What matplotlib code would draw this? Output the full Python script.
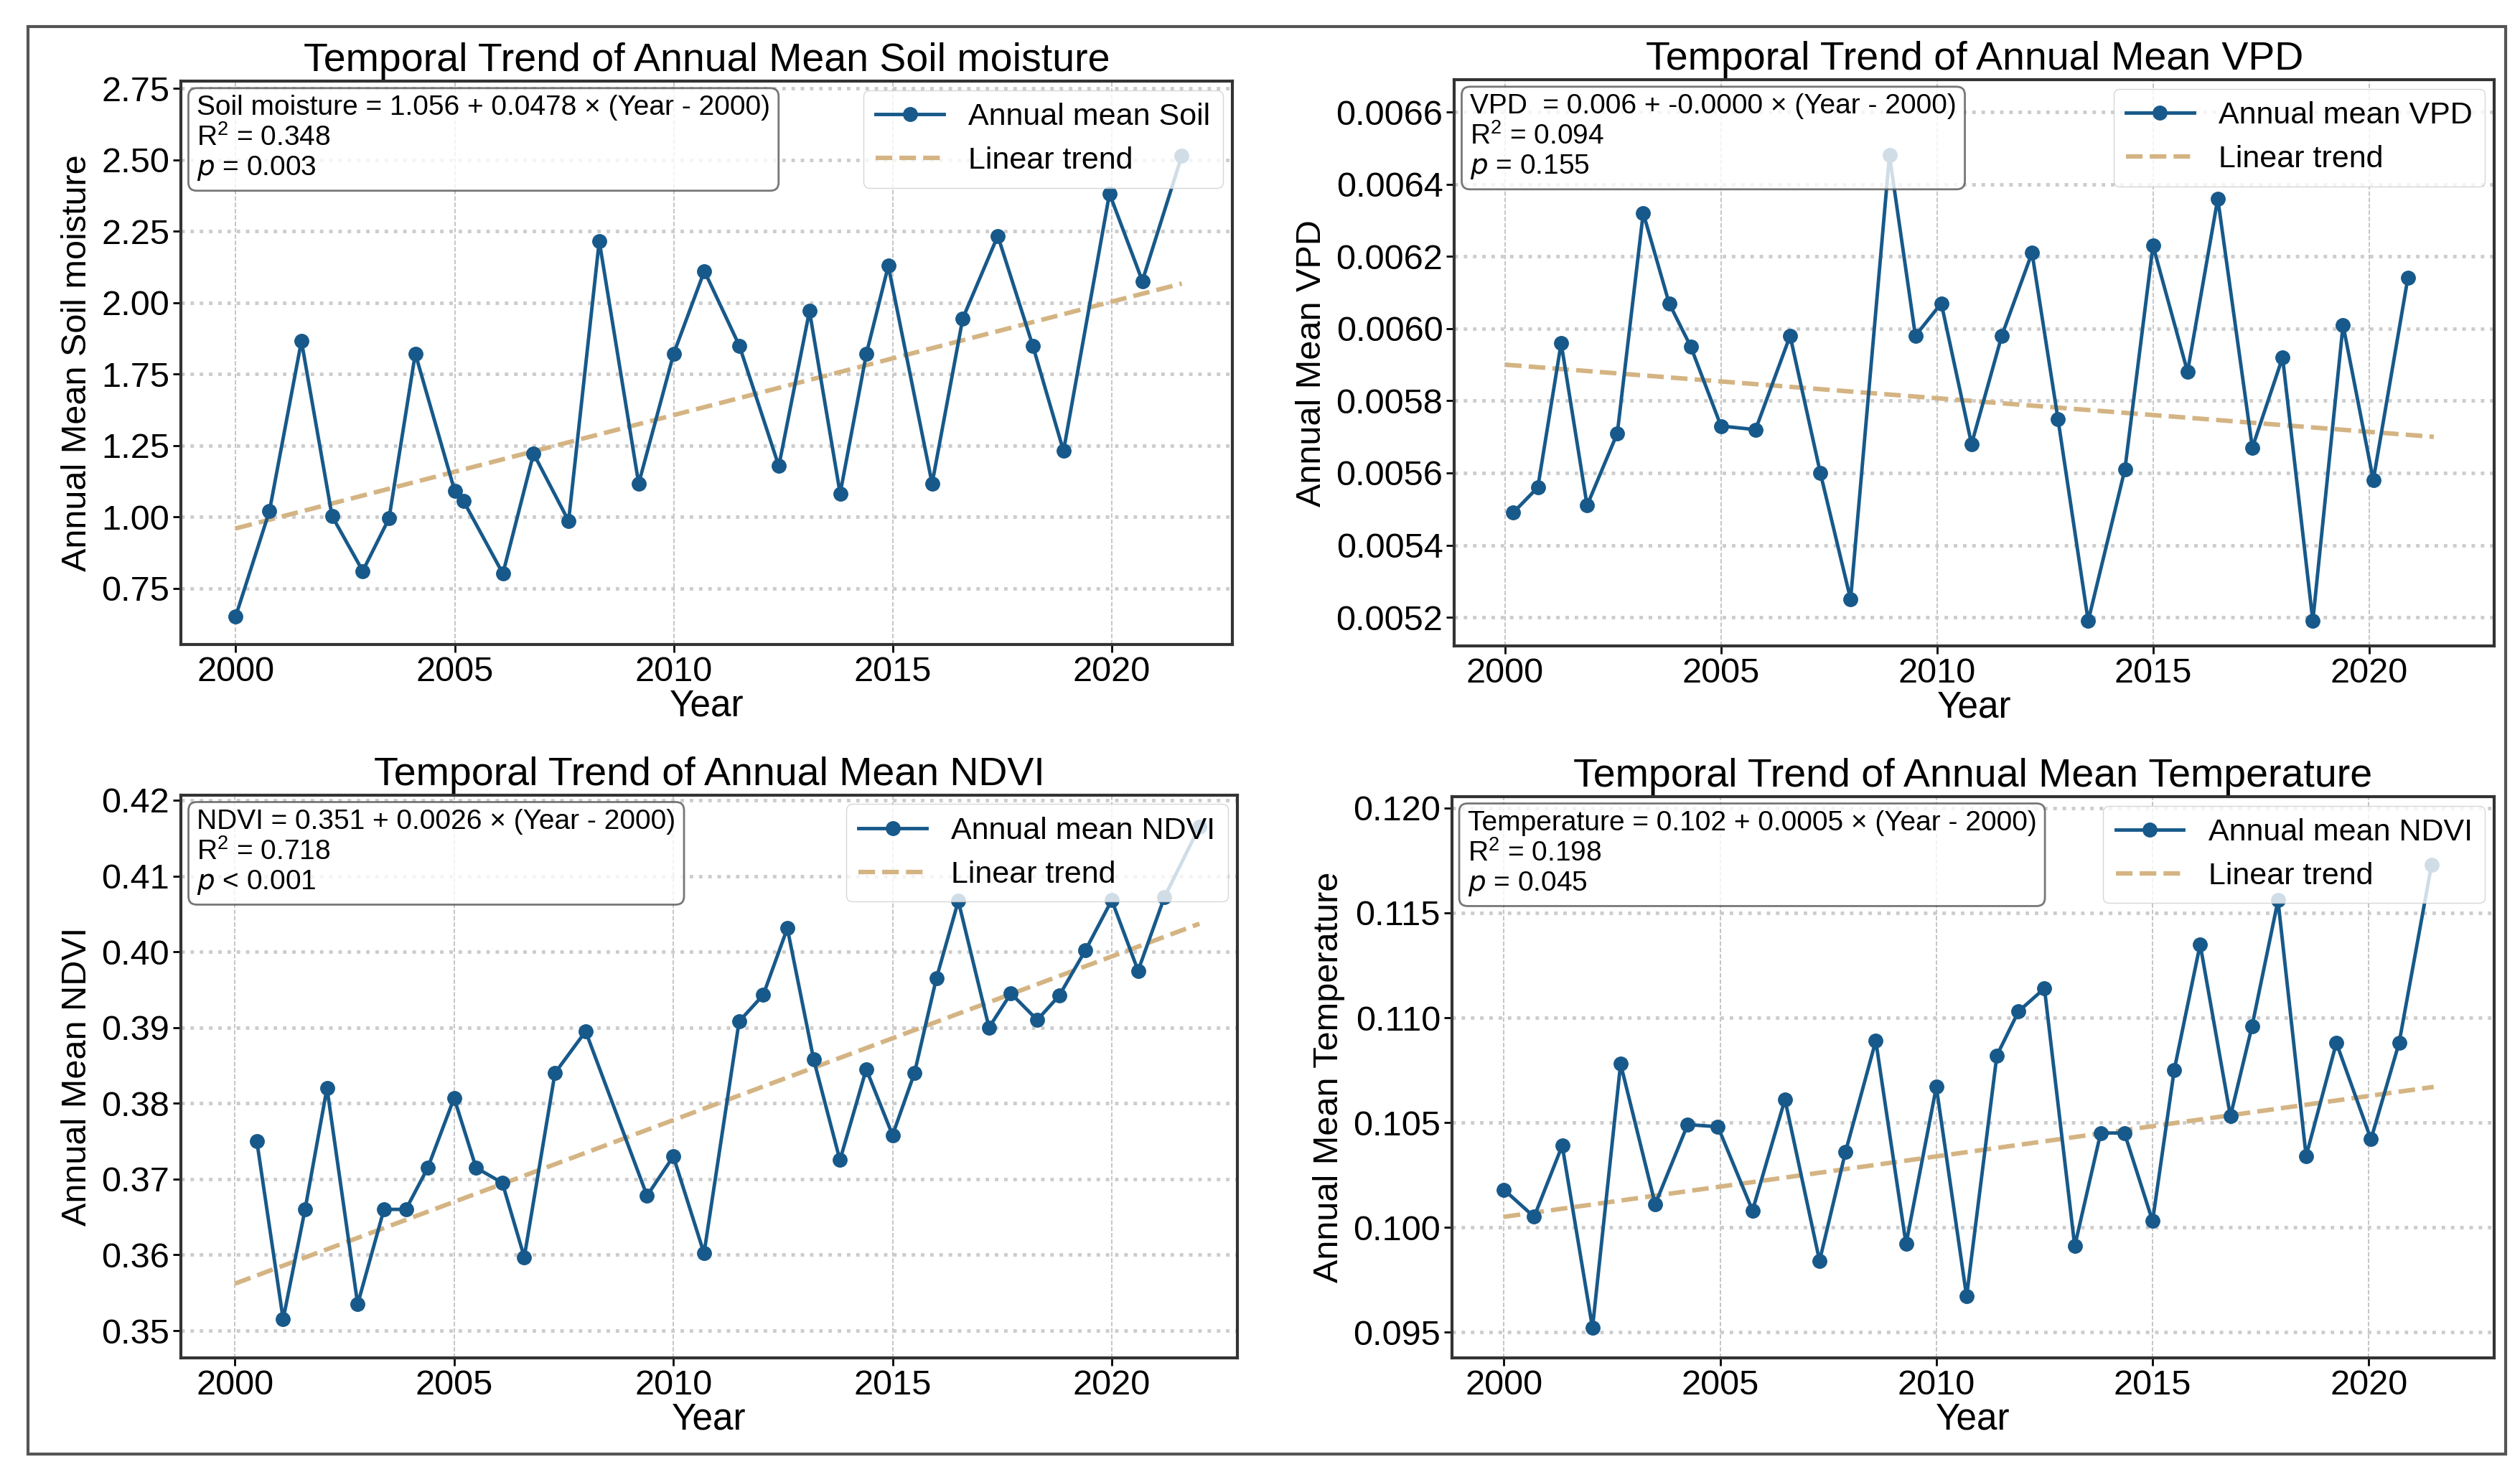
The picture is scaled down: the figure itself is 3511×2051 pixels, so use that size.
import matplotlib
matplotlib.use("Agg")
import matplotlib.pyplot as plt
import numpy as np

plt.rcParams['font.family'] = ['Liberation Sans', 'DejaVu Sans']

soil_x = [2000.0, 2000.77, 2001.5, 2002.2, 2002.9, 2003.5, 2004.1, 2005.0, 2005.2, 2006.1, 2006.8, 2007.6, 2008.3, 2009.2, 2010.0, 2010.7, 2011.5, 2012.4, 2013.1, 2013.8, 2014.4, 2014.9, 2015.9, 2016.6, 2017.4, 2018.2, 2018.9, 2019.95, 2020.7, 2021.6]
soil_y = [0.903, 1.271, 1.866, 1.253, 1.061, 1.245, 1.822, 1.341, 1.306, 1.052, 1.472, 1.236, 2.216, 1.367, 1.822, 2.111, 1.849, 1.428, 1.971, 1.332, 1.822, 2.129, 1.367, 1.945, 2.234, 1.849, 1.481, 2.382, 2.076, 2.514]
soil_trend = [(2000.0, 1.210), (2021.6, 2.067)]
soil_ticks = [1.0, 1.25, 1.5, 1.75, 2.0, 2.25, 2.5, 2.75]
soil_ticklabels = ["0.75", "1.00", "1.25", "1.75", "2.00", "2.25", "2.50", "2.75"]

vpd_x = [2000.19, 2000.76, 2001.3, 2001.9, 2002.6, 2003.2, 2003.8, 2004.3, 2005.0, 2005.8, 2006.6, 2007.3, 2008.0, 2008.9, 2009.5, 2010.1, 2010.8, 2011.5, 2012.2, 2012.8, 2013.5, 2014.35, 2015.0, 2015.8, 2016.5, 2017.3, 2018.0, 2018.7, 2019.4, 2020.1, 2020.9]
vpd_y = [0.00549, 0.00556, 0.00596, 0.00551, 0.00571, 0.00632, 0.00607, 0.00595, 0.00573, 0.00572, 0.00598, 0.00560, 0.00525, 0.00648, 0.00598, 0.00607, 0.00568, 0.00598, 0.00621, 0.00575, 0.00519, 0.00561, 0.00623, 0.00588, 0.00636, 0.00567, 0.00592, 0.00519, 0.00601, 0.00558, 0.00614]
vpd_trend = [(2000.0, 0.00590), (2021.5, 0.00570)]
vpd_ticks = [0.0052, 0.0054, 0.0056, 0.0058, 0.0060, 0.0062, 0.0064, 0.0066]
vpd_ticklabels = ["0.0052", "0.0054", "0.0056", "0.0058", "0.0060", "0.0062", "0.0064", "0.0066"]

ndvi_x = [2000.5, 2001.1, 2001.6, 2002.1, 2002.8, 2003.4, 2003.9, 2004.4, 2005.0, 2005.5, 2006.1, 2006.6, 2007.3, 2008.0, 2009.4, 2010.0, 2010.7, 2011.5, 2012.05, 2012.6, 2013.2, 2013.8, 2014.4, 2015.0, 2015.5, 2016.0, 2016.5, 2017.2, 2017.7, 2018.3, 2018.8, 2019.4, 2020.0, 2020.6, 2021.2, 2022.0]
ndvi_y = [0.375, 0.3515, 0.366, 0.382, 0.3535, 0.366, 0.366, 0.3715, 0.3807, 0.3715, 0.3695, 0.3597, 0.384, 0.3895, 0.3678, 0.373, 0.3602, 0.3908, 0.3943, 0.4031, 0.3858, 0.3725, 0.3845, 0.3758, 0.384, 0.3965, 0.4067, 0.3900, 0.3945, 0.391, 0.3942, 0.4002, 0.4068, 0.3975, 0.4072, 0.4165]
ndvi_trend = [(2000.0, 0.3562), (2022.0, 0.4037)]
ndvi_ticks = [0.35, 0.36, 0.37, 0.38, 0.39, 0.40, 0.41, 0.42]
ndvi_ticklabels = ["0.35", "0.36", "0.37", "0.38", "0.39", "0.40", "0.41", "0.42"]

temp_x = [2000.0, 2000.7, 2001.35, 2002.05, 2002.7, 2003.5, 2004.25, 2004.95, 2005.75, 2006.5, 2007.3, 2007.9, 2008.6, 2009.3, 2010.0, 2010.7, 2011.4, 2011.9, 2012.5, 2013.2, 2013.8, 2014.35, 2015.0, 2015.5, 2016.1, 2016.8, 2017.3, 2017.9, 2018.55, 2019.25, 2020.05, 2020.7, 2021.45]
temp_y = [0.1018, 0.1005, 0.1039, 0.0952, 0.1078, 0.1011, 0.1049, 0.1048, 0.1008, 0.1061, 0.0984, 0.1036, 0.1089, 0.0992, 0.1067, 0.0967, 0.1082, 0.1103, 0.1114, 0.0991, 0.1045, 0.1045, 0.1003, 0.1075, 0.1135, 0.1053, 0.1096, 0.1156, 0.1034, 0.1088, 0.1042, 0.1088, 0.1173]
temp_trend = [(2000.0, 0.1005), (2021.5, 0.1067)]
temp_ticks = [0.095, 0.100, 0.105, 0.110, 0.115, 0.120]
temp_ticklabels = ["0.095", "0.100", "0.105", "0.110", "0.115", "0.120"]

year_ticks = [2000, 2005, 2010, 2015, 2020]

panels = [
    dict(x=soil_x, y=soil_y, tr=soil_trend, pos=[0.0718, 0.562, 0.417, 0.383],
         title="Temporal Trend of Annual Mean Soil moisture", ylabel="Annual Mean Soil moisture",
         leg="Annual mean Soil", txt="Soil moisture = 1.056 + 0.0478 × (Year - 2000)\n$\\mathregular{R^2}$ = 0.348\n$\\it{p}$ = 0.003",
         xlim=(1998.75, 2022.75), ylim=(0.803, 2.776), yticks=soil_ticks, ylabels=soil_ticklabels),
    dict(x=vpd_x, y=vpd_y, tr=vpd_trend, pos=[0.577, 0.561, 0.4125, 0.385],
         title="Temporal Trend of Annual Mean VPD", ylabel="Annual Mean VPD",
         leg="Annual mean VPD", txt="VPD  = 0.006 + -0.0000 × (Year - 2000)\n$\\mathregular{R^2}$ = 0.094\n$\\it{p}$ = 0.155",
         xlim=(1998.83, 2022.9), ylim=(0.00512, 0.00669), yticks=vpd_ticks, ylabels=vpd_ticklabels),
    dict(x=ndvi_x, y=ndvi_y, tr=ndvi_trend, pos=[0.0718, 0.0775, 0.419, 0.3825],
         title="Temporal Trend of Annual Mean NDVI", ylabel="Annual Mean NDVI",
         leg="Annual mean NDVI", txt="NDVI = 0.351 + 0.0026 × (Year - 2000)\n$\\mathregular{R^2}$ = 0.718\n$\\it{p}$ < 0.001",
         xlim=(1998.77, 2022.86), ylim=(0.3464, 0.4207), yticks=ndvi_ticks, ylabels=ndvi_ticklabels),
    dict(x=temp_x, y=temp_y, tr=temp_trend, pos=[0.576, 0.0775, 0.4135, 0.3815],
         title="Temporal Trend of Annual Mean Temperature", ylabel="Annual Mean Temperature",
         leg="Annual mean NDVI", txt="Temperature = 0.102 + 0.0005 × (Year - 2000)\n$\\mathregular{R^2}$ = 0.198\n$\\it{p}$ = 0.045",
         xlim=(1998.8, 2022.9), ylim=(0.09377, 0.12056), yticks=temp_ticks, ylabels=temp_ticklabels),
]

fig = plt.figure(figsize=(35.12, 20.51), dpi=100)
fig.patches.append(plt.Rectangle((0.011, 0.012), 0.983, 0.97, transform=fig.transFigure,
                                 fill=False, edgecolor='#555555', lw=3))

blue = '#17598a'
tan = '#d4b483'
for p in panels:
    ax = fig.add_axes(p['pos'])
    ax.plot(p['x'], p['y'], '-o', color=blue, lw=3.5, ms=14, label=p['leg'], zorder=3)
    tx = [t[0] for t in p['tr']]
    ty = [t[1] for t in p['tr']]
    ax.plot(tx, ty, '--', color=tan, lw=4.5, label='Linear trend', zorder=2)
    ax.set_xlim(*p['xlim'])
    ax.set_ylim(*p['ylim'])
    ax.set_xticks(year_ticks)
    ax.set_yticks(p['yticks'])
    ax.set_yticklabels(p['ylabels'])
    ax.tick_params(labelsize=35, length=8, width=2)
    ax.xaxis.grid(True, ls='--', lw=1.2, color='#bbbbbb')
    ax.yaxis.grid(True, ls=':', lw=3.5, color='#cccccc')
    ax.set_axisbelow(True)
    for s in ax.spines.values():
        s.set_linewidth(3)
        s.set_color('#333333')
    ax.set_title(p['title'], fontsize=40, pad=10)
    ax.set_xlabel('Year', fontsize=37, labelpad=0)
    ax.set_ylabel(p['ylabel'], fontsize=35, labelpad=8)
    leg = ax.legend(loc='upper right', fontsize=31, framealpha=0.8, edgecolor='#cccccc',
                    handlelength=2.2, borderaxespad=0.3)
    leg.set_zorder(5)
    ax.text(0.015, 0.975, p['txt'], transform=ax.transAxes, fontsize=28, va='top', ha='left', zorder=6,
            linespacing=1.15,
            bbox=dict(boxstyle='round,pad=0.3', facecolor='white', alpha=0.8, edgecolor='#555555', lw=2))

fig.savefig('out.png', dpi=100)
